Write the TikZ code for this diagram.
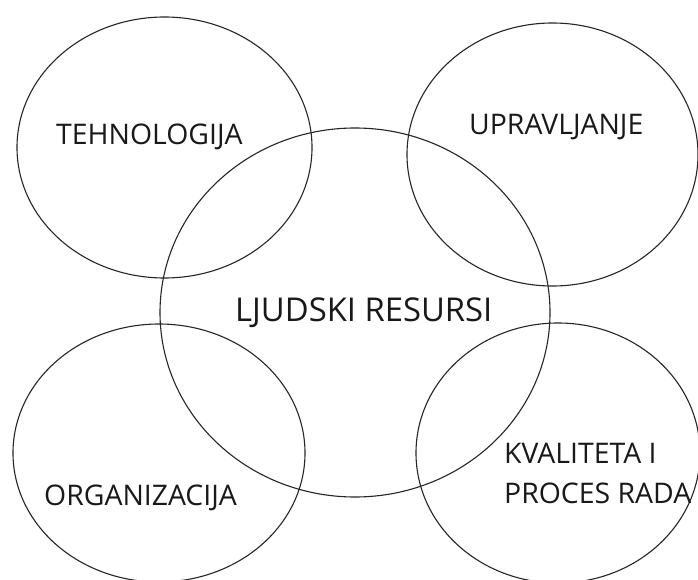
\documentclass[tikz,border=0pt]{standalone}
\usepackage{fontspec}
\setmainfont{Open Sans}
\usetikzlibrary{shapes.geometric}
\begin{document}
\begin{tikzpicture}[x=1pt,y=-1pt,
  ringline/.style={draw=black!85,line width=1.1pt},
  lbl/.style={anchor=base west,inner sep=0pt,text=black!90,font=\fontsize{28.4}{34}\selectfont},
  biglbl/.style={anchor=base west,inner sep=0pt,text=black!90,font=\fontsize{32.8}{38}\selectfont}]
\useasboundingbox (0,0) rectangle (698,580);
\fill[white] (0,0) rectangle (698,580);
\draw[ringline] (164.5,147.5) ellipse [x radius=147.5, y radius=130.5];
\draw[ringline] (552.5,154.5) ellipse [x radius=145.5, y radius=131.5];
\draw[ringline] (159,453) ellipse [x radius=146, y radius=129];
\draw[ringline] (558,453) ellipse [x radius=142, y radius=130];
\draw[ringline] (355,312.5) ellipse [x radius=195, y radius=184.5];
\node[lbl] (teh) at (56,145) {TEHNOLOGIJA};
\node[lbl] (upr) at (469,135) {UPRAVLJANJE};
\node[biglbl] (ljr) at (235,321) {LJUDSKI RESURSI};
\node[lbl] (org) at (44,505) {ORGANIZACIJA};
\node[lbl] (kva) at (504,463) {KVALITETA I};
\node[lbl] (pro) at (504,503) {PROCES RADA};
\end{tikzpicture}
\end{document}
